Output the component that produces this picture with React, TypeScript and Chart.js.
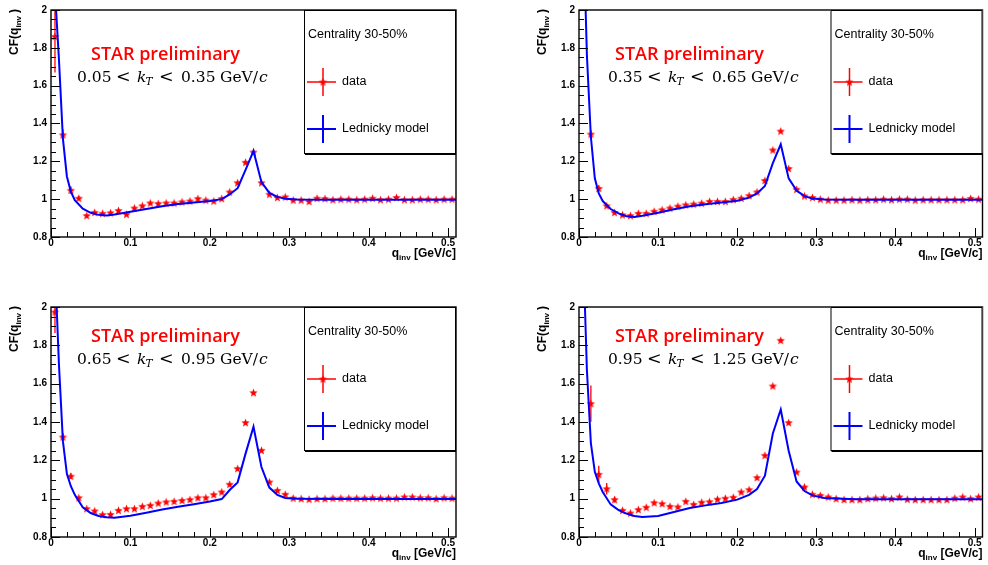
import React, { useEffect, useRef } from 'react';
import { Chart, registerables } from 'chart.js';

Chart.register(...registerables);

// ---- data ----
const Q_BINS = [
  0.005, 0.015, 0.025, 0.035, 0.045, 0.055, 0.065, 0.075, 0.085, 0.095,
  0.105, 0.115, 0.125, 0.135, 0.145, 0.155, 0.165, 0.175, 0.185, 0.195,
  0.205, 0.215, 0.225, 0.235, 0.245, 0.255, 0.265, 0.275, 0.285, 0.295,
  0.305, 0.315, 0.325, 0.335, 0.345, 0.355, 0.365, 0.375, 0.385, 0.395,
  0.405, 0.415, 0.425, 0.435, 0.445, 0.455, 0.465, 0.475, 0.485, 0.495, 0.505,
];

const DATA_KT1 = [
  1.86, 1.34, 1.047, 1.005, 0.913, 0.93, 0.925, 0.928, 0.94, 0.92,
  0.953, 0.965, 0.98, 0.977, 0.98, 0.98, 0.986, 0.99, 1.003, 0.995,
  0.99, 1.003, 1.038, 1.087, 1.195, 1.249, 1.087, 1.026, 1.009, 1.012,
  0.995, 0.995, 0.988, 1.005, 1.003, 0.997, 1.0, 1.0, 0.997, 1.0,
  1.005, 0.997, 1.0, 1.009, 0.997, 0.997, 1.0, 1.0, 0.997, 1.0, 1.0,
];
const DATA_KT2 = [
  null, 1.344, 1.057, 0.965, 0.93, 0.917, 0.913, 0.925, 0.925, 0.936,
  0.944, 0.953, 0.963, 0.97, 0.974, 0.979, 0.988, 0.988, 0.988, 0.998,
  1.005, 1.019, 1.038, 1.099, 1.26, 1.36, 1.162, 1.052, 1.017, 1.009,
  1.0, 0.995, 0.995, 0.995, 0.997, 0.995, 0.997, 0.997, 1.0, 0.997,
  1.0, 1.0, 0.995, 0.997, 0.997, 0.997, 0.997, 0.997, 0.997, 1.004, 1.0,
];
const DATA_KT3 = [
  1.974, 1.322, 1.117, 1.005, 0.948, 0.936, 0.917, 0.918, 0.939, 0.948,
  0.948, 0.96, 0.965, 0.977, 0.983, 0.986, 0.991, 0.995, 1.005, 1.005,
  1.021, 1.035, 1.075, 1.157, 1.397, 1.553, 1.252, 1.087, 1.043, 1.023,
  1.003, 1.0, 0.997, 1.0, 1.0, 1.003, 1.003, 1.003, 1.003, 1.003,
  1.005, 1.003, 1.003, 1.003, 1.009, 1.009, 1.005, 1.005, 1.0, 1.005, 1.003,
];
const DATA_KT4 = [
  null, 1.496, 1.127, 1.052, 0.995, 0.939, 0.925, 0.943, 0.955, 0.979,
  0.974, 0.96, 0.957, 0.986, 0.97, 0.981, 0.984, 0.997, 1.002, 1.007,
  1.035, 1.047, 1.11, 1.226, 1.588, 1.826, 1.397, 1.139, 1.061, 1.023,
  1.017, 1.009, 1.0, 0.995, 0.995, 0.995, 1.0, 1.003, 1.005, 1.0,
  1.009, 0.997, 0.995, 0.995, 0.995, 0.995, 0.995, 1.003, 1.009, 1.0, 1.009,
];

// statistical errors of the first bins (the rest are hidden by the markers)
const ERR_KT1 = [0.19, 0.03, 0.02, 0.01];
const ERR_KT2 = [0, 0.02, 0.015];
const ERR_KT3 = [0.11, 0.02, 0.015];
const ERR_KT4 = [0, 0.095, 0.045, 0.03, 0.015];

const MODEL_Q = [
  0.005, 0.01, 0.015, 0.02, 0.025, 0.03, 0.04, 0.05, 0.06, 0.07, 0.08,
  0.1, 0.12, 0.14, 0.16, 0.18, 0.2, 0.215, 0.225, 0.235, 0.245, 0.255,
  0.265, 0.275, 0.285, 0.295, 0.31, 0.35, 0.4, 0.45, 0.51,
];
const MODEL_KT1 = [
  2.1, 1.74, 1.32, 1.12, 1.04, 0.995, 0.95, 0.928, 0.917, 0.914, 0.919,
  0.933, 0.948, 0.962, 0.974, 0.983, 0.99, 1.0, 1.025, 1.058, 1.155, 1.255,
  1.09, 1.033, 1.012, 1.002, 0.998, 0.997, 0.997, 0.997, 0.997,
];
const MODEL_KT2 = [
  2.5, 1.76, 1.33, 1.11, 1.03, 0.99, 0.948, 0.925, 0.91, 0.906, 0.912,
  0.928, 0.947, 0.962, 0.973, 0.982, 0.992, 1.008, 1.03, 1.07, 1.19, 1.29,
  1.11, 1.045, 1.016, 1.003, 0.998, 0.997, 0.997, 0.997, 0.997,
];
const MODEL_KT3 = [
  2.22, 1.7, 1.3, 1.13, 1.065, 1.02, 0.955, 0.925, 0.91, 0.903, 0.901,
  0.911, 0.927, 0.943, 0.958, 0.971, 0.985, 0.998, 1.045, 1.085, 1.235, 1.375,
  1.165, 1.058, 1.02, 1.004, 0.999, 0.998, 0.998, 0.998, 0.998,
];
const MODEL_KT4 = [
  2.33, 1.67, 1.29, 1.14, 1.08, 1.035, 0.97, 0.94, 0.922, 0.91, 0.904,
  0.91, 0.93, 0.951, 0.965, 0.977, 0.995, 1.02, 1.05, 1.12, 1.34, 1.465,
  1.25, 1.09, 1.04, 1.017, 1.004, 0.997, 0.997, 0.997, 0.997,
];

const KT_LOW = ['0.05', '0.35', '0.65', '0.95'];
const KT_HIGH = ['0.35', '0.65', '0.95', '1.25'];
const X_TICKS = [0, 0.1, 0.2, 0.3, 0.4, 0.5];
const Y_TICKS = [0.8, 1, 1.2, 1.4, 1.6, 1.8, 2];
const CENTRALITY = 'Centrality 30-50%';
const LEGEND_LABELS = ['data', 'Lednicky model'];
const BADGE = 'STAR preliminary';

const ALL_DATA = [DATA_KT1, DATA_KT2, DATA_KT3, DATA_KT4];
const ALL_ERR = [ERR_KT1, ERR_KT2, ERR_KT3, ERR_KT4];
const ALL_MODEL = [MODEL_KT1, MODEL_KT2, MODEL_KT3, MODEL_KT4];

// ---- layout / style ----
const RED = '#ff0000';
const BLUE = '#0000ff';
const SANS = '"Liberation Sans", Arial, Helvetica, sans-serif';
const SERIF = '"DejaVu Serif", serif';

const PANELS = [
  { x: 0, y: 0, w: 494, h: 282, padL: 51, padT: 7, padR: 38, xH: 45, starDx: 40, starDy: 50, mathDx: 26, mathDy: 72 },
  { x: 494, y: 0, w: 494, h: 282, padL: 85, padT: 7, padR: 2, xH: 45, starDx: 36, starDy: 50, mathDx: 29, mathDy: 72 },
  { x: 0, y: 282, w: 494, h: 283, padL: 51, padT: 25, padR: 38, xH: 28, starDx: 40, starDy: 35, mathDx: 26, mathDy: 57 },
  { x: 494, y: 282, w: 494, h: 283, padL: 85, padT: 25, padR: 2, xH: 28, starDx: 36, starDy: 35, mathDx: 29, mathDy: 57 },
];

function makeStar(r: number): HTMLCanvasElement {
  const c = document.createElement('canvas');
  const s = Math.ceil(r * 2) + 2;
  c.width = s;
  c.height = s;
  const g = c.getContext('2d')!;
  g.translate(s / 2, s / 2 + r * 0.08);
  g.beginPath();
  for (let k = 0; k < 10; k++) {
    const rr = k % 2 ? r * 0.42 : r;
    const ang = -Math.PI / 2 + (k * Math.PI) / 5;
    g.lineTo(rr * Math.cos(ang), rr * Math.sin(ang));
  }
  g.closePath();
  g.fillStyle = RED;
  g.fill();
  return c;
}

function Panel({ idx }: { idx: number }) {
  const ref = useRef<HTMLCanvasElement>(null);
  const L = PANELS[idx];

  useEffect(() => {
    const canvas = ref.current!;
    const star = makeStar(4.4);
    const data = ALL_DATA[idx];
    const err = ALL_ERR[idx];
    const model = ALL_MODEL[idx];

    const rootPlugin = {
      id: 'rootStyle',
      beforeDatasetsDraw(chart: any) {
        const { ctx, chartArea: a, scales } = chart;
        const x = scales.x;
        const y = scales.y;
        ctx.save();
        ctx.beginPath();
        ctx.rect(a.left, a.top, a.right - a.left, a.bottom - a.top);
        ctx.clip();
        ctx.strokeStyle = RED;
        ctx.lineWidth = 1.3;
        err.forEach((e: number, i: number) => {
          const v = data[i];
          if (v == null || !e) return;
          const px = x.getPixelForValue(Q_BINS[i]);
          ctx.beginPath();
          ctx.moveTo(px, y.getPixelForValue(v - e));
          ctx.lineTo(px, y.getPixelForValue(v + e));
          ctx.stroke();
        });
        ctx.restore();
      },
      afterDraw(chart: any) {
        const { ctx, chartArea: a, scales } = chart;
        const x = scales.x;
        const y = scales.y;
        ctx.save();

        // frame
        ctx.strokeStyle = '#000';
        ctx.lineWidth = 1.4;
        ctx.strokeRect(a.left, a.top, a.right - a.left, a.bottom - a.top);

        // ticks (inside, left and bottom)
        ctx.lineWidth = 1;
        const tick = (x1: number, y1: number, x2: number, y2: number) => {
          ctx.beginPath();
          ctx.moveTo(x1, y1);
          ctx.lineTo(x2, y2);
          ctx.stroke();
        };
        for (let k = 0; k <= 24; k++) {
          const v = 0.8 + k * 0.05;
          const py = Math.round(y.getPixelForValue(v)) + 0.5;
          const len = k % 4 === 0 ? 9 : 5;
          tick(a.left, py, a.left + len, py);
        }
        for (let k = 0; k <= 25; k++) {
          const v = k * 0.02;
          const px = Math.round(x.getPixelForValue(v)) + 0.5;
          const len = k % 5 === 0 ? 9 : 5;
          tick(px, a.bottom, px, a.bottom - len);
        }

        // y title  CF(q_inv )
        ctx.fillStyle = '#000';
        ctx.textAlign = 'left';
        ctx.textBaseline = 'alphabetic';
        const fBig = 'bold 12px ' + SANS;
        const fSub = 'bold 8px ' + SANS;
        ctx.font = fBig;
        const w1 = ctx.measureText('CF(q').width;
        const w3 = ctx.measureText(')').width;
        ctx.font = fSub;
        const w2 = ctx.measureText('inv').width;
        const totY = w1 + w2 + 3 + w3;
        ctx.save();
        ctx.translate(a.left - 33, a.top - 1 + totY);
        ctx.rotate(-Math.PI / 2);
        ctx.font = fBig;
        ctx.fillText('CF(q', 0, 0);
        ctx.font = fSub;
        ctx.fillText('inv', w1, 3);
        ctx.font = fBig;
        ctx.fillText(')', w1 + w2 + 3, 0);
        ctx.restore();

        // x title  q_inv [GeV/c]
        ctx.font = fBig;
        const xq = ctx.measureText('q').width;
        const xr = ctx.measureText(' [GeV/c]').width;
        ctx.font = fSub;
        const xs = ctx.measureText('inv').width;
        const xb = a.bottom + 20;
        let xx = a.right - (xq + xs + xr);
        ctx.font = fBig;
        ctx.fillText('q', xx, xb);
        xx += xq;
        ctx.font = fSub;
        ctx.fillText('inv', xx, xb + 3);
        xx += xs;
        ctx.font = fBig;
        ctx.fillText(' [GeV/c]', xx, xb);

        // STAR preliminary
        ctx.fillStyle = RED;
        ctx.font = '600 18px "Open Sans", sans-serif';
        ctx.fillText(BADGE, a.left + L.starDx, a.top + L.starDy);

        // kT range
        const mx = a.left + L.mathDx;
        const my = a.top + L.mathDy;
        ctx.fillStyle = '#000';
        const fN = '15.5px ' + SERIF;
        const fI = 'italic 15.5px ' + SERIF;
        const fLt = '17.5px ' + SERIF;
        ctx.font = fN;
        ctx.fillText(KT_LOW[idx], mx, my);
        ctx.font = fLt;
        ctx.fillText('<', mx + 39, my);
        ctx.font = fI;
        ctx.fillText('k', mx + 60, my);
        ctx.font = 'italic 10.5px ' + SERIF;
        ctx.fillText('T', mx + 68.5, my + 3);
        ctx.font = fLt;
        ctx.fillText('<', mx + 82, my);
        ctx.font = fN;
        ctx.fillText(KT_HIGH[idx], mx + 104, my);
        const gx = mx + 143;
        ctx.fillText('GeV/', gx, my);
        const gw = ctx.measureText('GeV/').width;
        ctx.font = fI;
        ctx.fillText('c', gx + gw + 1, my);

        // legend box
        const bw = 152;
        const bh = 143;
        const bx = a.right - bw;
        const by = a.top;
        ctx.fillStyle = '#fff';
        ctx.fillRect(bx, by, bw, bh);
        ctx.strokeStyle = '#000';
        ctx.lineWidth = 1;
        ctx.strokeRect(bx + 0.5, by + 0.5, bw - 1, bh);
        ctx.fillStyle = '#000';
        ctx.fillRect(bx + 1, by + bh, bw - 1, 2);

        ctx.font = '12.5px ' + SANS;
        ctx.textBaseline = 'middle';
        ctx.fillText(CENTRALITY, bx + 4, by + 25);

        // data entry
        ctx.strokeStyle = RED;
        ctx.lineWidth = 1.5;
        tick(bx + 3, by + 72, bx + 32, by + 72);
        tick(bx + 19, by + 58, bx + 19, by + 86);
        ctx.drawImage(star, bx + 19 - star.width / 2, by + 72 - star.height / 2);
        ctx.fillStyle = '#000';
        ctx.fillText(LEGEND_LABELS[0], bx + 38, by + 72);

        // model entry
        ctx.strokeStyle = BLUE;
        ctx.lineWidth = 2;
        tick(bx + 3, by + 119, bx + 32, by + 119);
        tick(bx + 19, by + 105, bx + 19, by + 133);
        ctx.fillText(LEGEND_LABELS[1], bx + 38, by + 119);

        ctx.restore();
      },
    };

    const tickFont = { family: SANS, size: 10, weight: 'bold' as const };

    const chart = new Chart(canvas, {
      type: 'line',
      data: {
        datasets: [
          {
            label: LEGEND_LABELS[1],
            data: MODEL_Q.map((q, i) => ({ x: q, y: model[i] })),
            borderColor: BLUE,
            backgroundColor: BLUE,
            borderWidth: 2,
            pointRadius: 0,
            tension: 0,
            fill: false,
          },
          {
            label: LEGEND_LABELS[0],
            data: Q_BINS.map((q, i) => ({ x: q, y: data[i] })),
            showLine: false,
            pointStyle: star as any,
            pointRadius: 4.5,
            pointBackgroundColor: RED,
            pointBorderColor: RED,
            borderColor: RED,
          },
        ],
      },
      options: {
        animation: false,
        responsive: false,
        maintainAspectRatio: false,
        devicePixelRatio: 1,
        events: [],
        layout: { padding: { left: 0, top: L.padT, right: L.padR, bottom: 0 } },
        plugins: {
          legend: { display: false },
          tooltip: { enabled: false },
        },
        scales: {
          x: {
            type: 'linear',
            min: 0,
            max: 0.51,
            grid: { display: false, drawTicks: false },
            border: { display: false },
            ticks: {
              font: tickFont,
              color: '#000',
              padding: 0,
              autoSkip: false,
              maxRotation: 0,
              minRotation: 0,
              callback: (v: any) => String(v),
            },
            afterBuildTicks: (s: any) => {
              s.ticks = X_TICKS.map((v) => ({ value: v }));
            },
            afterFit: (s: any) => {
              s.height = L.xH;
            },
          },
          y: {
            type: 'linear',
            min: 0.8,
            max: 2,
            grid: { display: false, drawTicks: false },
            border: { display: false },
            ticks: {
              font: tickFont,
              color: '#000',
              padding: 4,
              autoSkip: false,
              callback: (v: any) => String(v),
            },
            afterBuildTicks: (s: any) => {
              s.ticks = Y_TICKS.map((v) => ({ value: v }));
            },
            afterFit: (s: any) => {
              s.width = L.padL;
            },
          },
        },
      },
      plugins: [rootPlugin],
    } as any);

    return () => chart.destroy();
  }, [idx]);

  return (
    <canvas
      ref={ref}
      width={L.w}
      height={L.h}
      style={{ position: 'absolute', left: L.x, top: L.y, width: L.w, height: L.h }}
    />
  );
}

export default function App() {
  return (
    <div style={{ position: 'absolute', left: 0, top: 0, width: 988, height: 565, background: '#fff', overflow: 'hidden' }}>
      {PANELS.map((_, i) => (
        <Panel key={i} idx={i} />
      ))}
    </div>
  );
}
